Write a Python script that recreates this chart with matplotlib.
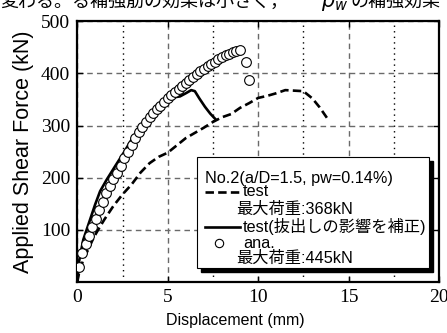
import matplotlib
matplotlib.use("Agg")
import matplotlib.pyplot as plt
from matplotlib.patches import Rectangle
from matplotlib.lines import Line2D
from matplotlib.ticker import MultipleLocator

# ---- data ----
test_x = [0, 0.1, 0.35, 0.6, 0.9, 1.2, 1.5, 2.0, 2.5, 3.0, 3.5, 4.0, 4.5, 5.0, 5.5, 6.0,
          6.5, 7.0, 7.5, 8.0, 8.5, 9.0, 9.5, 10.0, 10.5, 11.0, 11.5, 12.0, 12.5, 13.0, 13.4, 13.8]
test_y = [0, 18, 45, 62, 85, 103, 120, 146, 168, 187, 210, 228, 240, 248, 262, 276,
          286, 296, 307, 316, 322, 334, 343, 353, 357, 362, 368, 367, 366, 352, 335, 315]

corr_x = [0, 0.11, 0.33, 0.70, 0.98, 1.26, 1.62, 2.09, 2.55, 3.0, 3.47, 4.11, 4.57, 5.0,
          5.3, 5.68, 6.0, 6.3, 6.5, 6.75, 7.06, 7.35, 7.62]
corr_y = [0, 42, 81, 119, 148, 174, 196, 222, 247, 273, 299, 327, 344, 355,
          354, 356, 362, 368, 366, 352, 336, 323, 313]

ana_x = [0.09, 0.28, 0.48, 0.65, 0.83, 1.03, 1.22, 1.40, 1.60, 1.80,
         2.00, 2.20, 2.40, 2.60, 2.80, 3.00, 3.20, 3.40, 3.60, 3.80,
         4.00, 4.20, 4.40, 4.60, 4.80, 5.00, 5.20, 5.40, 5.60, 5.80,
         6.00, 6.20, 6.40, 6.60, 6.80, 7.00, 7.20, 7.40, 7.60, 7.80,
         8.00, 8.20, 8.40, 8.60, 8.80, 9.00, 9.33, 9.50]
ana_y = [29, 55, 73, 88, 105, 121, 138, 154, 170, 185,
         198, 210, 223, 237, 250, 263, 276, 287, 297, 307,
         316, 324, 331, 338, 345, 352, 358, 364, 370, 376,
         381, 387, 393, 399, 404, 409, 414, 418, 422, 427,
         431, 435, 438, 441, 443, 445, 422, 387]

x_ticks = [0, 5, 10, 15, 20]
y_ticks = [100, 200, 300, 400, 500]
legend_title = "No.2(a/D=1.5, pw=0.14%)"
lab_test = "test"
lab_corr = "test(抜出しの影響を補正)"
lab_ana = "ana."
max_test = "最大荷重:368kN"
max_ana = "最大荷重:445kN"

SANS = ["Liberation Sans", "Noto Sans CJK JP"]
SERIF = ["Liberation Serif", "DejaVu Serif"]

fig = plt.figure(figsize=(4.47, 3.33), dpi=100)
W, H = 447, 333
L, R, T, B = 77.3, 439.0, 21.3, 282.0
ax = fig.add_axes([L / W, 1 - B / H, (R - L) / W, (B - T) / H])

ax.set_xlim(0, 20)
ax.set_ylim(0, 500)
ax.set_xticks(x_ticks)
ax.set_yticks(y_ticks)
ax.xaxis.set_minor_locator(MultipleLocator(2.5))
ax.grid(True, which="major", axis="both", color="#6a6a6a", linestyle=(0, (4, 3)), linewidth=1.0)
ax.grid(True, which="minor", axis="x", color="black", linestyle=(0, (1, 3)), linewidth=1.0)
ax.set_axisbelow(True)
ax.tick_params(which="both", direction="in", top=True, right=True, length=4, width=1,
               labelsize=14, pad=5)
ax.tick_params(which="minor", length=0)
for lab in ax.get_xticklabels() + ax.get_yticklabels():
    lab.set_family(SERIF)
for s in ax.spines.values():
    s.set_linewidth(1.6)

ax.plot(test_x, test_y, color="black", linewidth=1.9, linestyle=(0, (3.2, 1.6)), zorder=3)
ax.plot(corr_x, corr_y, color="black", linewidth=1.9, zorder=3)
ax.plot(ana_x, ana_y, linestyle="none", marker="o", markersize=7, markerfacecolor="white",
        markeredgecolor="black", markeredgewidth=0.8, zorder=4)

ax.set_xlabel("Displacement (mm)", family=SANS, fontsize=11.5, labelpad=5)
ax.xaxis.label.set_x((235 - L) / (R - L))
ax.set_ylabel("Applied Shear Force (kN)", family=SANS, fontsize=15.5, labelpad=5)


def ax_x(px):
    return (px - L) / (R - L)


def ax_y(py):
    return (B - py) / (B - T)


# legend box with shadow
sh = Rectangle((ax_x(201), ax_y(272)), ax_x(433) - ax_x(201), ax_y(161) - ax_y(272),
               transform=ax.transAxes, facecolor="black", edgecolor="black", zorder=6)
bx = Rectangle((ax_x(197), ax_y(268)), ax_x(429) - ax_x(197), ax_y(157) - ax_y(268),
               transform=ax.transAxes, facecolor="white", edgecolor="black", linewidth=0.8, zorder=7)
ax.add_patch(sh)
ax.add_patch(bx)

fs = 11.7
ax.text(ax_x(205), ax_y(178), legend_title, transform=ax.transAxes, family=SANS, fontsize=fs,
        va="center", ha="left", zorder=8)
ax.add_line(Line2D([ax_x(205), ax_x(240)], [ax_y(192), ax_y(192)], transform=ax.transAxes,
                   color="black", linewidth=1.9, linestyle=(0, (3.2, 1.6)), zorder=8))
ax.text(ax_x(243), ax_y(192), lab_test, transform=ax.transAxes, family=SANS, fontsize=fs,
        va="center", ha="left", zorder=8)
ax.text(ax_x(236), ax_y(209), max_test, transform=ax.transAxes, family=SANS, fontsize=fs,
        va="center", ha="left", zorder=8)
ax.add_line(Line2D([ax_x(205), ax_x(240)], [ax_y(227), ax_y(227)], transform=ax.transAxes,
                   color="black", linewidth=1.9, zorder=8))
ax.text(ax_x(243), ax_y(226), lab_corr, transform=ax.transAxes, family=SANS, fontsize=fs,
        va="center", ha="left", zorder=8)
ax.add_line(Line2D([ax_x(219)], [ax_y(243)], transform=ax.transAxes, linestyle="none",
                   marker="o", markersize=6, markerfacecolor="white", markeredgecolor="black",
                   markeredgewidth=0.8, zorder=8))
ax.text(ax_x(243), ax_y(243), lab_ana, transform=ax.transAxes, family=SANS, fontsize=fs,
        va="center", ha="left", zorder=8)
ax.text(ax_x(236), ax_y(258), max_ana, transform=ax.transAxes, family=SANS, fontsize=fs,
        va="center", ha="left", zorder=8)

# clipped line of body text at the very top of the image
fig.text(0.0, 1 - 7 / H, "変わる。る補強筋の効果は小さく，", family=["Noto Sans CJK JP"],
         fontsize=13, va="baseline", ha="left")
fig.text(321 / W, 1 - 7 / H, r"$p_w$", fontsize=15, va="baseline", ha="left")
fig.text(350 / W, 1 - 7 / H, "の補強効果", family=["Noto Sans CJK JP"],
         fontsize=13, va="baseline", ha="left")

fig.savefig("out.png", dpi=100)
